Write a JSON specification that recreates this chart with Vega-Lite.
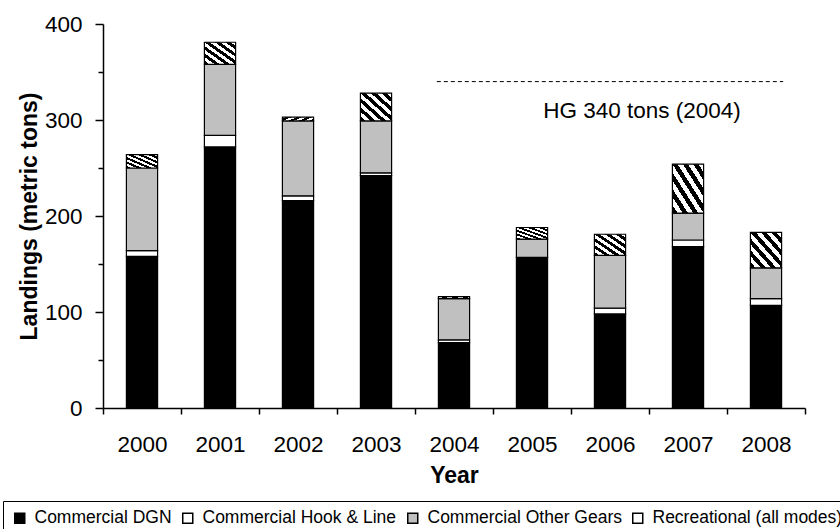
{
  "$schema": "https://vega.github.io/schema/vega-lite/v6.json",
  "width": 702,
  "height": 384,
  "autosize": {"type": "none"},
  "padding": {"left": 103, "top": 24, "right": 35, "bottom": 121},
  "background": "white",
  "config": {
    "view": {"stroke": null},
    "font": "Liberation Sans",
    "axis": {
      "domainColor": "black",
      "domainWidth": 1.5,
      "tickColor": "black",
      "tickWidth": 1.5,
      "labelColor": "black",
      "labelFont": "Liberation Sans",
      "labelFontSize": 22.5,
      "titleColor": "black",
      "titleFont": "Liberation Sans",
      "titleFontSize": 23,
      "titleFontWeight": "bold",
      "grid": false
    }
  },
  "layer": [
    {
      "data": {
        "values": [
          {"year": "2000", "gear": "Commercial DGN", "landings": 158},
          {"year": "2000", "gear": "Commercial Hook & Line", "landings": 6},
          {"year": "2000", "gear": "Commercial Other Gears", "landings": 86},
          {"year": "2000", "gear": "Recreational (all modes)", "landings": 14},
          {"year": "2001", "gear": "Commercial DGN", "landings": 272},
          {"year": "2001", "gear": "Commercial Hook & Line", "landings": 12},
          {"year": "2001", "gear": "Commercial Other Gears", "landings": 74},
          {"year": "2001", "gear": "Recreational (all modes)", "landings": 23},
          {"year": "2002", "gear": "Commercial DGN", "landings": 216},
          {"year": "2002", "gear": "Commercial Hook & Line", "landings": 5},
          {"year": "2002", "gear": "Commercial Other Gears", "landings": 78},
          {"year": "2002", "gear": "Recreational (all modes)", "landings": 4},
          {"year": "2003", "gear": "Commercial DGN", "landings": 242},
          {"year": "2003", "gear": "Commercial Hook & Line", "landings": 3},
          {"year": "2003", "gear": "Commercial Other Gears", "landings": 54},
          {"year": "2003", "gear": "Recreational (all modes)", "landings": 29},
          {"year": "2004", "gear": "Commercial DGN", "landings": 68},
          {"year": "2004", "gear": "Commercial Hook & Line", "landings": 3},
          {"year": "2004", "gear": "Commercial Other Gears", "landings": 43},
          {"year": "2004", "gear": "Recreational (all modes)", "landings": 2},
          {"year": "2005", "gear": "Commercial DGN", "landings": 157},
          {"year": "2005", "gear": "Commercial Hook & Line", "landings": 0},
          {"year": "2005", "gear": "Commercial Other Gears", "landings": 19},
          {"year": "2005", "gear": "Recreational (all modes)", "landings": 12},
          {"year": "2006", "gear": "Commercial DGN", "landings": 98},
          {"year": "2006", "gear": "Commercial Hook & Line", "landings": 6},
          {"year": "2006", "gear": "Commercial Other Gears", "landings": 55},
          {"year": "2006", "gear": "Recreational (all modes)", "landings": 22},
          {"year": "2007", "gear": "Commercial DGN", "landings": 168},
          {"year": "2007", "gear": "Commercial Hook & Line", "landings": 7},
          {"year": "2007", "gear": "Commercial Other Gears", "landings": 28},
          {"year": "2007", "gear": "Recreational (all modes)", "landings": 51},
          {"year": "2008", "gear": "Commercial DGN", "landings": 107},
          {"year": "2008", "gear": "Commercial Hook & Line", "landings": 7},
          {"year": "2008", "gear": "Commercial Other Gears", "landings": 32},
          {"year": "2008", "gear": "Recreational (all modes)", "landings": 37}
        ]
      },
      "mark": {"type": "bar", "width": {"band": 0.4}, "stroke": "black", "strokeWidth": 1.2},
      "encoding": {
        "x": {
          "field": "year",
          "type": "ordinal",
          "title": "Year",
          "scale": {"paddingInner": 0, "paddingOuter": 0},
          "axis": {"labelAngle": 0, "tickBand": "extent", "tickSize": 6, "labelPadding": 19, "titlePadding": 9}
        },
        "y": {
          "field": "landings",
          "type": "quantitative",
          "title": "Landings (metric tons)",
          "scale": {"domain": [0, 400]},
          "axis": {
            "values": [0, 50, 100, 150, 200, 250, 300, 350, 400],
            "labelExpr": "datum.value % 100 === 0 ? datum.label : ''",
            "tickSize": {"condition": {"test": "datum.value % 100 === 0", "value": 8}, "value": 5},
            "labelPadding": 13,
            "titlePadding": 3
          }
        },
        "order": {"field": "gear", "type": "nominal", "sort": "ascending"},
        "fill": {
          "field": "gear",
          "type": "nominal",
          "condition": {
            "test": "datum.gear === 'Recreational (all modes)'",
            "value": {
              "gradient": "linear", "x1": 0, "y1": 1, "x2": 1, "y2": 0,
              "stops": [
                {"offset": 0, "color": "black"}, {"offset": 0.0833, "color": "black"},
                {"offset": 0.0833, "color": "white"}, {"offset": 0.1667, "color": "white"},
                {"offset": 0.1667, "color": "black"}, {"offset": 0.25, "color": "black"},
                {"offset": 0.25, "color": "white"}, {"offset": 0.3333, "color": "white"},
                {"offset": 0.3333, "color": "black"}, {"offset": 0.4167, "color": "black"},
                {"offset": 0.4167, "color": "white"}, {"offset": 0.5, "color": "white"},
                {"offset": 0.5, "color": "black"}, {"offset": 0.5833, "color": "black"},
                {"offset": 0.5833, "color": "white"}, {"offset": 0.6667, "color": "white"},
                {"offset": 0.6667, "color": "black"}, {"offset": 0.75, "color": "black"},
                {"offset": 0.75, "color": "white"}, {"offset": 0.8333, "color": "white"},
                {"offset": 0.8333, "color": "black"}, {"offset": 0.9167, "color": "black"},
                {"offset": 0.9167, "color": "white"}, {"offset": 1, "color": "white"}
              ]
            }
          },
          "scale": {
            "domain": ["Commercial DGN", "Commercial Hook & Line", "Commercial Other Gears", "Recreational (all modes)"],
            "range": ["black", "white", "#c0c0c0", "white"]
          },
          "legend": {
            "title": null,
            "orient": "none",
            "legendX": -100,
            "legendY": 477,
            "direction": "horizontal",
            "columns": 4,
            "columnPadding": 7,
            "padding": 8,
            "strokeColor": "black",
            "symbolType": "square",
            "symbolSize": 100,
            "labelFont": "Liberation Sans",
            "labelFontSize": 17.5,
            "labelColor": "black",
            "labelOffset": 6,
            "labelLimit": 400,
            "encode": {
              "symbols": {
                "update": {
                  "stroke": {"value": "black"},
                  "strokeWidth": {"value": 1.2}
                }
              }
            }
          }
        }
      }
    },
    {
      "data": {"values": [{"year": "2004", "year_end": "2008", "landings": 340, "label": "HG 340 tons (2004)"}]},
      "layer": [
        {
          "mark": {"type": "rule", "color": "black", "strokeWidth": 1, "strokeDash": [4, 3]},
          "encoding": {
            "x": {"field": "year", "type": "ordinal", "bandPosition": 0.28},
            "x2": {"field": "year_end", "bandPosition": 0.72},
            "y": {"field": "landings", "type": "quantitative"}
          }
        },
        {
          "mark": {"type": "text", "font": "Liberation Sans", "fontSize": 22.5, "color": "black", "align": "center", "baseline": "middle", "dx": 32, "dy": 29},
          "encoding": {
            "x": {"datum": "2006", "type": "ordinal"},
            "y": {"field": "landings", "type": "quantitative"},
            "text": {"field": "label"}
          }
        }
      ]
    }
  ]
}
